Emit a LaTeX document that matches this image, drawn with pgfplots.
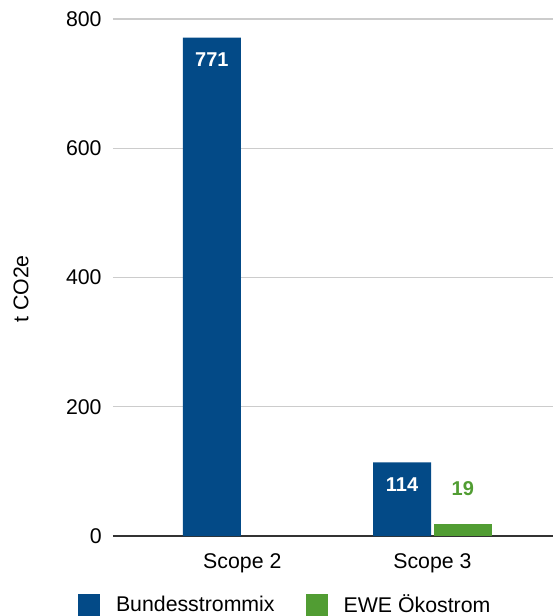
\documentclass[border=0pt]{standalone}
\usepackage{fontspec}
\setmainfont{Liberation Sans}
\usepackage{pgfplots}
\pgfplotsset{compat=1.18}
\definecolor{bblue}{HTML}{034A87}
\definecolor{egreen}{HTML}{519D33}
\definecolor{gridc}{HTML}{CCCCCC}
\definecolor{basec}{HTML}{333333}
\newcommand{\lf}{\fontsize{10.65}{12}\selectfont}
\newcommand{\bfl}{\fontsize{10}{12}\selectfont\bfseries}
\begin{document}
\begin{tikzpicture}
\useasboundingbox (-56.5pt,-40pt) rectangle (220pt,268pt);
\begin{axis}[
  at={(0,0)}, anchor=south west,
  scale only axis, width=220pt, height=258.5pt,
  xmin=-0.68, xmax=1.634, ymin=0, ymax=800,
  ybar, bar width=0.305,
  xtick={0,1}, xticklabels={Scope 2, Scope 3},
  ytick={0,200,400,600,800},
  ymajorgrids, grid style={draw=gridc, line width=0.6pt},
  extra y ticks={0}, extra y tick labels={},
  extra y tick style={grid style={draw=basec, line width=0.7pt}},
  axis line style={draw=none},
  major tick length=0pt,
  /pgf/number format/assume math mode=true,
  tick label style={font=\lf},
  yticklabel style={anchor=east, inner sep=0pt, xshift=-5.5pt},
  xticklabel style={anchor=base, inner sep=0pt, yshift=-16pt},
  ylabel={t CO2e},
  ylabel style={font=\lf, at={(axis description cs:-0.209,0.478)}, anchor=center},
  legend columns=2,
  legend style={draw=none, fill=none, font=\lf,
    at={(axis description cs:-0.0795,-0.112)}, anchor=north west,
    inner sep=0pt, outer sep=0pt,
    nodes={inner sep=0pt},
    /tikz/every odd column/.style={column sep=8pt},
    /tikz/every even column/.style={column sep=15.5pt}},
  legend image code/.code={\fill[#1] (0pt,-5.5pt) rectangle (11pt,5.5pt);},
]
\addplot[fill=bblue, draw=none, bar shift=-0.16,
  nodes near coords,
  nodes near coords style={text=white, font=\bfl, anchor=center, yshift=-11pt}]
  coordinates {(0,771) (1,114)};
\addlegendentry{Bundesstrommix}
\addplot[fill=egreen, draw=none, bar shift=0.16,
  nodes near coords,
  nodes near coords style={text=egreen, font=\bfl, anchor=center, yshift=17.5pt}]
  coordinates {(1,19)};
\addlegendentry{EWE Ökostrom}
\end{axis}
\end{tikzpicture}
\end{document}
